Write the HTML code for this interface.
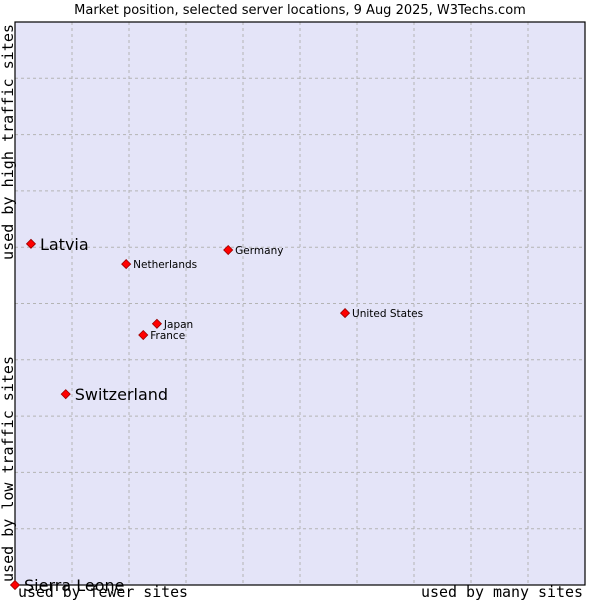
<!DOCTYPE html>
<html><head><meta charset="utf-8"><style>
body{margin:0;background:#fff;width:600px;height:600px;overflow:hidden}
svg{font-family:"DejaVu Sans","Liberation Sans",sans-serif}
</style></head><body>
<svg id="chart" width="600" height="600" xmlns="http://www.w3.org/2000/svg">
<text x="300" y="14" font-size="13" text-anchor="middle" fill="#000">Market position, selected server locations, 9 Aug 2025, W3Techs.com</text>
<rect x="15" y="22" width="570" height="563" fill="#e4e4f8"/>
<g id="grid"></g>
<rect x="15" y="22" width="570" height="563" fill="none" stroke="#000" stroke-width="1.2"/>
<g id="points"></g>
<text x="18" y="597" font-family="DejaVu Sans Mono, Liberation Mono, monospace" font-size="15" textLength="170" lengthAdjust="spacingAndGlyphs">used by fewer sites</text>
<text x="583" y="597" text-anchor="end" font-family="DejaVu Sans Mono, Liberation Mono, monospace" font-size="15" textLength="162" lengthAdjust="spacingAndGlyphs">used by many sites</text>
<text transform="translate(13,582) rotate(-90)" font-family="DejaVu Sans Mono, Liberation Mono, monospace" font-size="15" textLength="226" lengthAdjust="spacingAndGlyphs">used by low traffic sites</text>
<text transform="translate(13,260) rotate(-90)" font-family="DejaVu Sans Mono, Liberation Mono, monospace" font-size="15" textLength="236" lengthAdjust="spacingAndGlyphs">used by high traffic sites</text>
</svg>
<script>
const names=["Latvia","Switzerland","Sierra Leone","Netherlands","Germany","United States","Japan","France"];
const xVals=[2.8,8.9,0,19.5,37.4,57.9,24.9,22.5];
const yVals=[60.6,33.9,0,57.0,59.5,48.3,46.4,44.4];
const bigLabel=[true,true,true,false,false,false,false,false];
const NS="http://www.w3.org/2000/svg";
const X0=15,X1=585,Y0=585,Y1=22;
function sx(v){return X0+v/100*(X1-X0);}
function sy(v){return Y0-v/100*(Y0-Y1);}
const grid=document.getElementById('grid');
for(let i=1;i<10;i++){
  const v=document.createElementNS(NS,'line');
  
  
  v.setAttribute('x1',sx(i*10));v.setAttribute('x2',sx(i*10));v.setAttribute('y1',Y1);v.setAttribute('y2',Y0);
  v.setAttribute('stroke','#b4b4b4');v.setAttribute('stroke-dasharray','3,3');
  grid.appendChild(v);
  const h=document.createElementNS(NS,'line');
  
  
  h.setAttribute('y1',sy(i*10));h.setAttribute('y2',sy(i*10));h.setAttribute('x1',X0);h.setAttribute('x2',X1);
  h.setAttribute('stroke','#b4b4b4');h.setAttribute('stroke-dasharray','3,3');
  grid.appendChild(h);
}
const pts=document.getElementById('points');
names.forEach((n,i)=>{
  const x=sx(xVals[i]),y=sy(yVals[i]);
  const d=document.createElementNS(NS,'polygon');
  
  
  d.setAttribute('points',`${x},${y-4.5} ${x+4.5},${y} ${x},${y+4.5} ${x-4.5},${y}`);
  d.setAttribute('fill','#ff0000');d.setAttribute('stroke','#900');d.setAttribute('stroke-width','0.8');
  pts.appendChild(d);
  const t=document.createElementNS(NS,'text');
  
  
  t.setAttribute('x',x+(bigLabel[i]?9:7));
  t.setAttribute('y',y+(bigLabel[i]?6:4));
  t.setAttribute('font-size',bigLabel[i]?'16':'10.5');
  t.textContent=n;
  pts.appendChild(t);
});
</script>
</body></html>
